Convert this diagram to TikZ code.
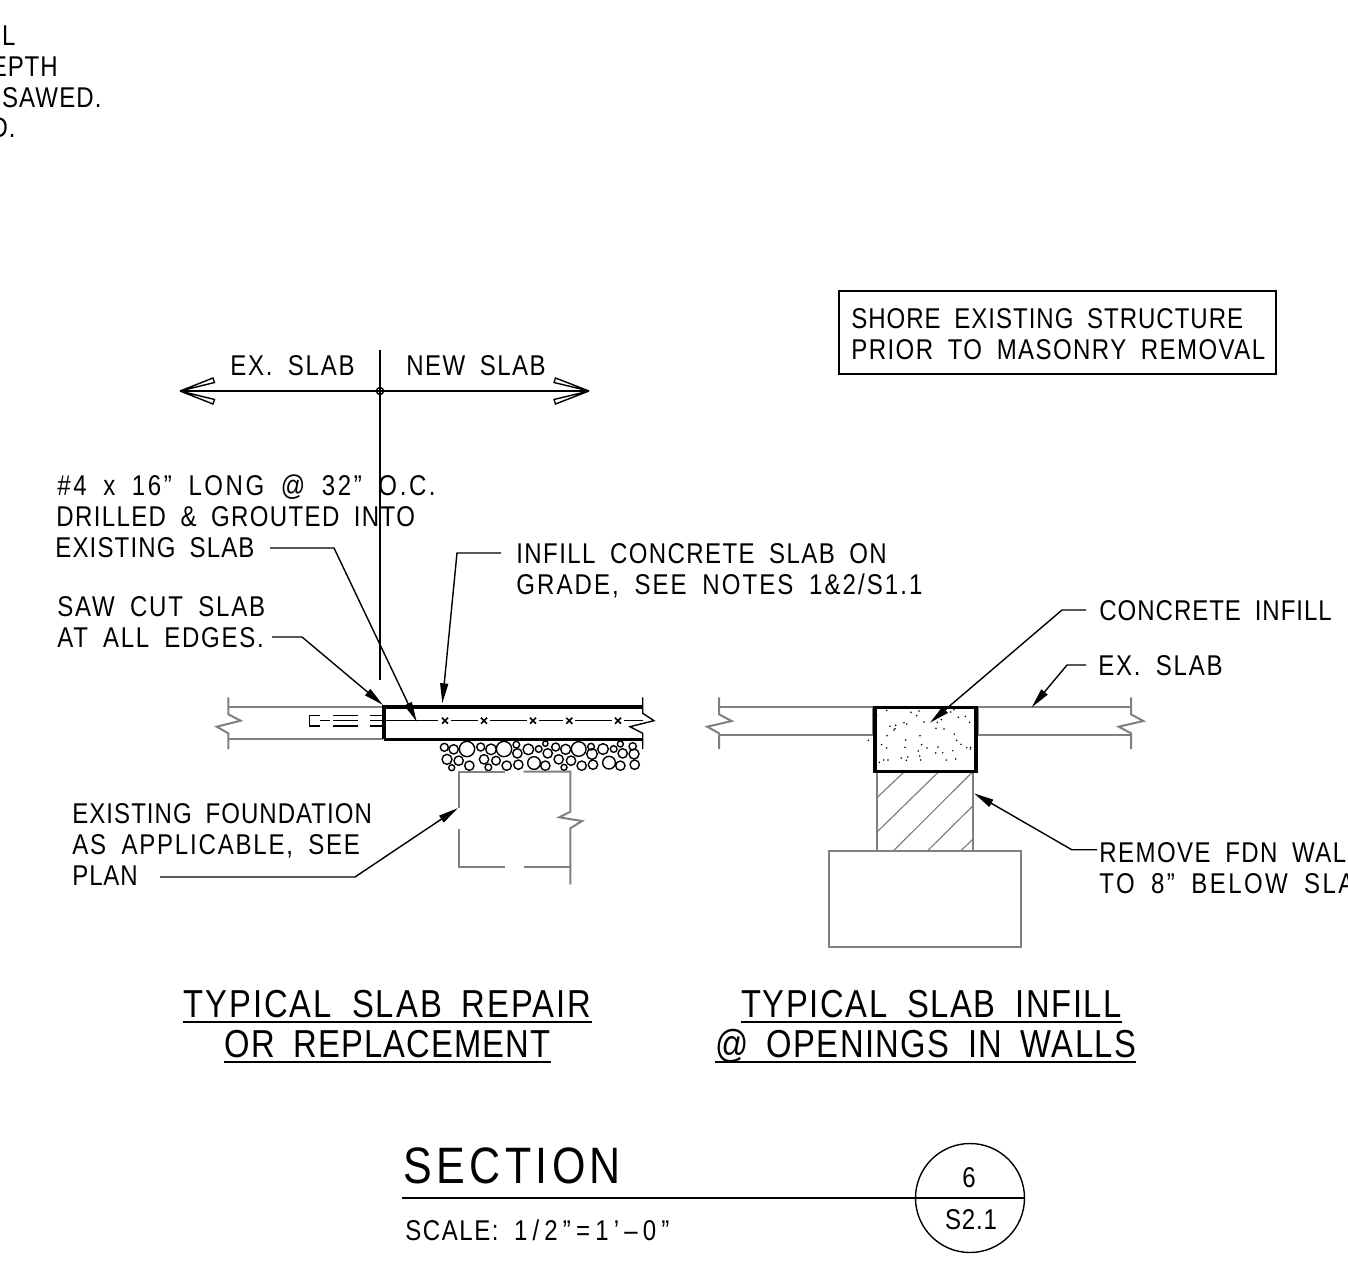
\documentclass[tikz,border=0pt]{standalone}
\usepackage{fontspec}
\setmainfont[LetterSpace=3,WordSpace=1.8,FakeStretch=0.84]{Liberation Sans}
\usetikzlibrary{arrows.meta}
\newcommand{\spread}[2]{{\addfontfeature{LetterSpace=#1}#2}}
\tikzset{
  note/.style={font=\fontsize{14.3}{15.5}\selectfont, inner sep=0, anchor=base west, align=left},
  bigtitle/.style={font=\fontsize{19.5}{20}\selectfont, inner sep=0, anchor=base, text depth=2.2pt},
  oldline/.style={draw=black!50, line width=1pt},
  newline/.style={draw=black, line width=1.8pt},
  thinline/.style={draw=black, line width=.7pt},
  hatchline/.style={draw=black!50, line width=.6pt},
  leader/.style={draw=black, line width=.7pt, ->, >={Triangle[length=10pt,width=4pt]}},
  openhead/.style={draw=black, line width=.7pt, fill=white}
}
\begin{document}
\begin{tikzpicture}[x=.5pt,y=-.5pt]
    \useasboundingbox (0,0) rectangle (1348,1268);
    % notes clipped by the sheet
    \node[note, anchor=base east] (noteil) at (16,46) {IL};
    \node[note, anchor=base east] (noteepth) at (58,77) {EPTH};
    \node[note, anchor=base east] (notesaw) at (102,107) {\spread{4}{SAWED.}};
    \node[note, anchor=base east] (noted) at (16,138) {D.};

    \node[draw, line width=.7pt, minimum width=218.5pt, minimum height=41.5pt, inner sep=0] (shorebox) at (1057.5,332.5) {};
    \node[note] (shore) at (851,359) {\spread{3.4}{SHORE EXISTING STRUCTURE}\\\spread{5}{PRIOR TO MASONRY REMOVAL}};

    % slab limit
    \coordinate (cltop) at (380,350);
    \coordinate (clbot) at (380,680);
    \coordinate (arrl) at (180,391);
    \coordinate (arrr) at (589,391);
    \draw[thinline] (cltop) -- (clbot);
    \draw[thinline] (arrl) -- (arrr);
    \node[draw, circle, line width=.7pt, minimum size=3.5pt, inner sep=0] (clmark) at (380,391) {};
    \draw[openhead] (arrl) -- (213,378) -- (214.5,382.5) -- cycle;
    \draw[openhead] (arrl) -- (214.5,399.5) -- (213,404) -- cycle;
    \draw[openhead] (arrr) -- (555.5,378) -- (554,382.5) -- cycle;
    \draw[openhead] (arrr) -- (554,399.5) -- (555.5,404) -- cycle;
    \node[note] (exslab) at (230,375) {\spread{6.2}{EX. SLAB}};
    \node[note] (newslab) at (406,375) {\spread{5}{NEW SLAB}};

    % repair: existing slab
    \draw[oldline] (228.3,707) -- (383,707);
    \draw[oldline] (228.3,739.3) -- (383,739.3);
    \draw[oldline] (228.3,697.3) -- (228.3,714.3) -- (240.7,720.7) -- (216.7,726.7) -- (228.3,733.3) -- (228.3,749);
    % dowel in old slab
    \draw[thinline] (320,715.7) -- (309.3,715.7) -- (309.3,726) -- (320,726);
    \draw[thinline] (320,720.7) -- (330,720.7);
    \foreach \y in {715.7,720.7,726} {
      \draw[thinline] (333.3,\y) -- (358.3,\y);
      \draw[thinline] (370,\y) -- (381.5,\y);
    }
    % repair: new slab
    \draw[newline] (384,739.3) -- (384,707) -- (642.7,707);
    \draw[newline] (384,739.3) -- (642.7,739.3);
    \draw[thinline] (642.7,697.3) -- (642.7,713.3) -- (654,720.7) -- (630,726.7) -- (642.7,733.3) -- (642.7,749);
    \draw[thinline] (384,720.7) -- (438,720.7);
    \draw[thinline] (451,720.7) -- (478,720.7);
    \draw[thinline] (490,720.7) -- (527,720.7);
    \draw[thinline] (539,720.7) -- (563,720.7);
    \draw[thinline] (575,720.7) -- (612,720.7);
    \draw[thinline] (624,720.7) -- (643,720.7);
    \foreach \x in {445,484,533,569.3,618} {
      \draw[line width=.8pt] (\x-3,717.7) -- (\x+3,723.7);
      \draw[line width=.8pt] (\x-3,723.7) -- (\x+3,717.7);
    }
    % gravel
    \begin{scope}[shift={(200,670)},x=.16667pt,y=-.16667pt]
      \foreach \a/\b/\r in {733/232/12,761/238/14,801/237/23,842/231/12,873/238/16,912/237/23,949/224/10,952/250/14,985/238/16,1016/237/10,1036/221/8,1043/250/14,1067/231/12,1097/238/15,1136/237/22,1173/230/10,1176/252/16,1209/237/16,1241/237/10,1261/222/9,1268/250/14,1298/229/11,1302/252/15,741/268/15,776/272/14,755/293/9,808/287/14,852/268/14,888/272/13,865/292/10,920/287/14,955/284/14,1002/279/19,1036/287/14,1076/268/14,1113/272/14,1092/292/9,1145/287/14,1179/284/14,1227/278/19,1261/287/14,1304/284/14}
        \draw[thinline] (\a,\b) circle (\r);
    \end{scope}
    % old foundation
    \draw[oldline] (505,771.7) -- (459,771.7) -- (459,807.7);
    \draw[oldline] (523.7,771.7) -- (570.3,771.7) -- (570.3,811.7) -- (559.3,817.3) -- (582,821) -- (570.3,828.3) -- (570.3,884.3);
    \draw[oldline] (459,828.7) -- (459,867) -- (505,867);
    \draw[oldline] (523.7,867) -- (570.3,867);

    % repair labels
    \node[note] (dowel) at (57,557) {\spread{9}{\#4 x 16” LONG @ 32” O.C.}\\\hspace*{-.5pt}\spread{4.8}{DRILLED \& GROUTED INTO}\\\hspace*{-1pt}\spread{4}{EXISTING SLAB}};
    \coordinate (dowelfrom) at (270,548);
    \coordinate (dowelknee) at (334,548);
    \coordinate (doweltip) at (416.7,721.7);
    \draw[leader] (dowelfrom) -- (dowelknee) -- (doweltip);
    \node[note] (sawcut) at (57,647) {\spread{6.3}{SAW CUT SLAB}\\\spread{6}{AT ALL EDGES.}};
    \coordinate (sawfrom) at (272,637);
    \coordinate (sawknee) at (302,637);
    \coordinate (sawtip) at (383,705);
    \draw[leader] (sawfrom) -- (sawknee) -- (sawtip);
    \node[note] (infill) at (516,594) {\spread{4.9}{INFILL CONCRETE SLAB ON}\\\spread{7.2}{GRADE, SEE NOTES 1\&2/S1.1}};
    \coordinate (infillfrom) at (501,553);
    \coordinate (infillknee) at (457,553);
    \coordinate (infilltip) at (442.3,703.3);
    \draw[leader] (infillfrom) -- (infillknee) -- (infilltip);
    \node[note] (fdn) at (72,885) {\spread{3.6}{EXISTING FOUNDATION}\\\spread{6.3}{AS APPLICABLE, SEE}\\PLAN};
    \coordinate (fdnfrom) at (160,877);
    \coordinate (fdnknee) at (355,877);
    \coordinate (fdntip) at (458,808);
    \draw[leader] (fdnfrom) -- (fdnknee) -- (fdntip);

    % infill: existing slab both sides
    \draw[oldline] (719,707.3) -- (873,707.3);
    \draw[oldline] (719,735) -- (873,735);
    \draw[oldline] (873,707.3) -- (873,735);
    \draw[oldline] (719,697.3) -- (719,714.3) -- (731.7,721) -- (707.3,726.7) -- (719,733.3) -- (719,749);
    \draw[oldline] (977.5,707.3) -- (1131,707.3);
    \draw[oldline] (977.5,735) -- (1131,735);
    \draw[oldline] (977.5,707.3) -- (977.5,735);
    \draw[oldline] (1131,697.3) -- (1131,714.3) -- (1143.3,721) -- (1118.7,726.7) -- (1131,733.3) -- (1131,749);
    % wall and footing
    \draw[oldline] (877.3,771) -- (877.3,851);
    \draw[oldline] (972.7,771) -- (972.7,851);
    \draw[oldline] (829,851) rectangle (1021,947.3);
    \draw[hatchline] (877.3,797.3) -- (903.3,772.7);
    \draw[hatchline] (877.3,831.7) -- (937.7,772.7);
    \draw[hatchline] (893.3,851) -- (971.7,772.7);
    \draw[hatchline] (927.3,851) -- (972.7,806);
    \draw[hatchline] (960.7,851) -- (972.7,839.3);
    % infill block
    \draw[newline] (874.7,707.3) rectangle (975.7,771.3);
    \begin{scope}[shift={(700,680)},x=.16667pt,y=-.16667pt]
      \foreach \a/\b in {505/181,530/106,560/91,633/97,657/93,650/107,672/126,612/128,620/132,570/139,587/136,585/146,582/150,561/167,617/180,660/167,708/145,732/147,712/127,724/119,752/96,762/89,775/112,796/109,809/127,763/162,770/181,783/193,800/203,812/202,811/207,545/194,560/204,615/202,665/194,681/204,655/213,659/228,662/240,714/201,707/219,728/218,758/212,767/237,739/240,604/234,623/231,619/241,538/247,551/240,564/240}
        \fill (\a,\b) circle (2.6);
    \end{scope}

    % infill labels
    \node[note] (concrete) at (1099,620) {\spread{3.4}{CONCRETE INFILL}};
    \coordinate (concfrom) at (1086,610);
    \coordinate (concknee) at (1062,610);
    \coordinate (conctip) at (930,722.7);
    \draw[leader] (concfrom) -- (concknee) -- (conctip);
    \node[note] (exslabr) at (1098,675) {\spread{6.2}{EX. SLAB}};
    \coordinate (exfrom) at (1086,665);
    \coordinate (exknee) at (1067,665);
    \coordinate (extip) at (1031.7,707.3);
    \draw[leader] (exfrom) -- (exknee) -- (extip);
    \node[note] (remove) at (1099,893) {\spread{5}{REMOVE FDN WALL}\\\spread{8.5}{TO 8” BELOW SLAB}};
    \coordinate (remfrom) at (1097,849.7);
    \coordinate (remknee) at (1071.7,849.7);
    \coordinate (remtip) at (974,793.3);
    \draw[leader] (remfrom) -- (remknee) -- (remtip);

    % titles
    \node[bigtitle] (repaira) at (387.5,1017) {\spread{5.2}{TYPICAL SLAB REPAIR}};
    \node[bigtitle] (repairb) at (387.5,1057) {\spread{2.9}{OR REPLACEMENT}};
    \node[bigtitle] (infilla) at (931.5,1017) {\spread{4.3}{TYPICAL SLAB INFILL}};
    \node[bigtitle] (infillb) at (925.5,1057) {\spread{3.4}{@ OPENINGS IN WALLS}};
    \foreach \n in {repaira,repairb,infilla,infillb}
      \draw[line width=.9pt] (\n.south west) -- (\n.south east);

    % section mark
    \node[note, font=\fontsize{25.6}{26}\selectfont] (section) at (403,1183) {\spread{8.6}{SECTION}};
    \node[note] (scale) at (405,1240) {\spread{5.4}{SCALE:}\hspace{1pt} \spread{18}{1/2”=1’--0”}};
    \node[draw, circle, line width=.7pt, minimum size=54.5pt, inner sep=0] (tag) at (970,1198) {};
    \coordinate (sectfrom) at (402,1198);
    \draw[thinline] (sectfrom) -- (tag.east);
    \node[note, anchor=base] (tagnum) at (969,1187) {6};
    \node[note, anchor=base] (tagsheet) at (971,1229) {S2.1};
  \end{tikzpicture}
\end{document}
